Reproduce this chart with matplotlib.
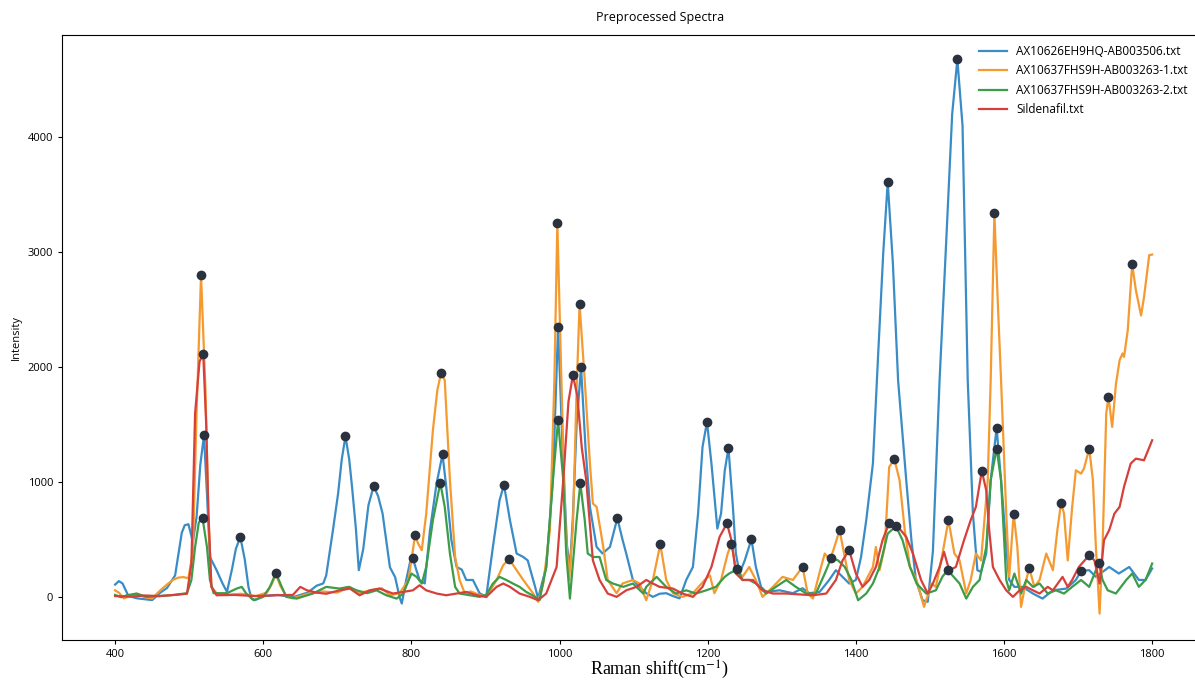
import numpy as np
import matplotlib.pyplot as plt

# spectra (Raman shift, intensity)
blue_x = [400, 405, 410, 418, 430, 450, 461, 470, 481, 490, 494, 499, 505, 510, 515, 520, 524, 528, 537, 545,
          551, 558, 563, 569, 575, 580, 584, 589, 600, 620, 640, 660, 672, 681, 685, 694, 701, 706, 711, 716,
          720, 725, 729, 735, 742, 749, 755, 761, 771, 778, 784, 787, 793, 798, 802, 806, 811, 818, 825, 834,
          842, 847, 854, 861, 868, 874, 883, 892, 901, 910, 919, 925, 933, 942, 951, 957, 967, 971, 982, 991,
          998, 1004, 1010, 1014, 1018, 1023, 1029, 1035, 1041, 1050, 1058, 1068, 1078, 1085, 1090, 1099, 1108,
          1117, 1126, 1135, 1144, 1153, 1162, 1171, 1180, 1187, 1193, 1199, 1205, 1213, 1218, 1223, 1228, 1234,
          1238, 1243, 1250, 1259, 1265, 1272, 1279, 1297, 1315, 1328, 1337, 1351, 1364, 1373, 1382, 1391, 1400,
          1407, 1414, 1423, 1430, 1437, 1443, 1450, 1457, 1468, 1475, 1481, 1490, 1497, 1504, 1513, 1522, 1530,
          1537, 1544, 1551, 1558, 1564, 1569, 1576, 1582, 1590, 1596, 1603, 1607, 1614, 1625, 1639, 1652, 1666,
          1684, 1697, 1704, 1715, 1724, 1733, 1742, 1755, 1769, 1782, 1791, 1800]
blue_y = [110, 140, 120, 10, -10, -25, 40, 80, 190, 560, 626, 635, 480, 700, 1150, 1410, 900, 350, 235, 120,
          46, 250, 420, 524, 330, 90, -10, -25, 10, 20, 0, 40, 100, 120, 190, 580, 900, 1200, 1400, 1200,
          950, 600, 235, 420, 800, 965, 880, 730, 260, 175, 0, -55, 150, 300, 340, 250, 150, 120, 580, 990,
          1243, 960, 495, 263, 240, 150, 150, 35, 3, 437, 843, 977, 670, 380, 350, 320, 90, -10, 263, 1017,
          2348, 1300, 450, 250, 700, 1500, 2000, 1300, 785, 437, 380, 437, 687, 500, 380, 150, 90,
          35, 3, 30, 35, 10, -10, 150, 263, 727, 1307, 1524, 1165, 597, 727, 1100, 1298, 785,
          380, 207, 320, 504, 263, 90, 46, 60, 35, 78, 35, 46, 150, 235, 177, 119, 150,
          350, 670, 1162, 2100, 3000, 3609, 2900, 1887, 1017, 496, 150, -26, -40, 400, 1887, 3100, 4200,
          4678, 4100, 1887, 727, 235, 220, 380, 1017, 1472, 1017, 437, 150, 90, 90, 32, -12, 60,
          75, 150, 229, 235, 177, 220, 263, 206, 263, 150, 150, 250]

orange_x = [400, 405, 412, 420, 430, 440, 450, 461, 470, 478, 485, 492, 499, 505, 510, 516, 522, 526, 530, 537,
            550, 570, 590, 605, 612, 617, 623, 631, 640, 660, 680, 700, 717, 729, 744, 760, 771, 784, 796, 805,
            809, 814, 820, 829, 835, 840, 845, 852, 859, 865, 872, 880, 888, 901, 915, 924, 932, 942, 951, 964,
            971, 978, 987, 993, 997, 1002, 1008, 1013, 1018, 1023, 1027, 1034, 1041, 1045, 1050, 1059, 1065,
            1077, 1085, 1099, 1108, 1117, 1126, 1136, 1144, 1153, 1166, 1180, 1196, 1203, 1209, 1218, 1227,
            1232, 1238, 1247, 1256, 1265, 1274, 1288, 1301, 1315, 1328, 1335, 1342, 1353, 1358, 1365, 1371,
            1378, 1385, 1391, 1400, 1409, 1423, 1427, 1432, 1439, 1445, 1452, 1459, 1466, 1473, 1482, 1492,
            1502, 1508, 1517, 1525, 1533, 1540, 1549, 1555, 1562, 1569, 1578, 1582, 1587, 1592, 1596, 1603,
            1607, 1613, 1618, 1623, 1630, 1634, 1641, 1648, 1657, 1666, 1672, 1677, 1681, 1686, 1692, 1697,
            1704, 1708, 1715, 1720, 1724, 1729, 1733, 1738, 1741, 1746, 1751, 1756, 1760, 1762, 1767, 1773,
            1778, 1785, 1789, 1796, 1800]
orange_y = [60, 40, -10, 10, 30, 0, -10, 60, 110, 150, 170, 175, 165, 400, 1600, 2800, 1800, 700, 90, 35,
            20, 30, 10, 40, 120, 200, 100, 10, -10, 30, 50, 40, 90, 35, 60, 78, 17, 35, 150, 540,
            467, 409, 727, 1452, 1800, 1948, 1887, 1017, 350, 150, 35, 50, 30, 0, 150, 280, 330, 235, 150, 35,
            -40, 119, 583, 1887, 3252, 2000, 600, 150, 600, 1800, 2548, 1887, 1162, 815, 785, 437, 150,
            35, 119, 150, 119, -26, 150, 461, 150, 35, 3, 35, 150, 190, 35, 150, 380,
            461, 263, 177, 263, 150, 3, 90, 177, 150, 264, 32, -12, 263, 380, 320, 437,
            583, 350, 150, 32, 90, 263, 437, 235, 437, 1133, 1200, 1017, 583, 263, 150, -84,
            119, 90, 380, 670, 380, 320, 32, 150, 380, 320, 1017, 1887, 3339, 2500, 1887, 727,
            177, 727, 437, -84, 150, 255, 90, 150, 380, 235, 583, 820, 727, 320, 785, 1104,
            1075, 1120, 1293, 1017, 437, -142, 437, 1597, 1742, 1481, 1850, 2060, 2120, 2090, 2320, 2896,
            2670, 2450, 2610, 2974, 2980]

green_x = [400, 408, 416, 429, 442, 460, 480, 497, 503, 508, 513, 518, 524, 528, 533, 551, 564, 571, 577, 587,
           600, 609, 617, 625, 631, 645, 667, 685, 703, 715, 726, 740, 753, 766, 780, 789, 800, 807, 814, 820,
           829, 839, 845, 852, 859, 865, 879, 892, 901, 910, 919, 928, 937, 946, 955, 967, 973, 982, 991, 998,
           1005, 1009, 1014, 1018, 1023, 1028, 1034, 1038, 1045, 1054, 1063, 1072, 1086, 1099, 1113, 1117, 1131,
           1144, 1157, 1171, 1184, 1198, 1211, 1223, 1229, 1240, 1247, 1256, 1265, 1279, 1292, 1306, 1319, 1333,
           1346, 1358, 1367, 1376, 1385, 1394, 1403, 1414, 1423, 1432, 1443, 1454, 1463, 1473, 1482, 1495, 1508,
           1517, 1524, 1532, 1540, 1549, 1558, 1567, 1576, 1582, 1590, 1596, 1603, 1607, 1614, 1623, 1630, 1639,
           1648, 1659, 1670, 1681, 1692, 1704, 1715, 1728, 1733, 1740, 1751, 1765, 1773, 1782, 1791, 1800]
green_y = [20, 0, 17, 32, 3, 10, 20, 35, 150, 437, 650, 690, 437, 150, 35, 35, 75, 90, 32, -26,
           3, 90, 210, 90, 3, -12, 32, 90, 75, 90, 60, 35, 60, 17, -12, 32, 206, 177, 119, 263,
           670, 994, 785, 380, 90, 32, 17, 3, 20, 119, 177, 150, 119, 90, 46, 3, -26, 263, 1017, 1539,
           1017, 380, -12, 293, 670, 991, 670, 380, 350, 350, 150, 119, 90, 119, 32, 90, 177,
           90, 32, 60, 32, 60, 90, 177, 206, 243, 150, 150, 119, 32, 90, 150, 90, 32,
           32, 206, 345, 320, 263, 150, -26, 32, 119, 263, 553, 617, 496, 263, 119, 32, 60,
           180, 235, 177, 119, -12, 90, 150, 437, 1017, 1293, 1017, 150, 60, 206, 32, 150, 90,
           119, 32, 60, 32, 90, 150, 90, 298, 150, 60, 32, 150, 206, 90, 150, 293]

red_x = [400, 420, 440, 460, 480, 497, 503, 508, 514, 519, 523, 526, 530, 537, 560, 590, 617, 640, 650, 659,
         672, 685, 703, 717, 730, 744, 757, 775, 789, 802, 811, 820, 834, 847, 861, 874, 888, 901, 915, 924,
         933, 946, 960, 971, 982, 996, 1005, 1012, 1018, 1024, 1030, 1036, 1045, 1054, 1065, 1077, 1090, 1104,
         1117, 1126, 1135, 1153, 1166, 1180, 1193, 1205, 1216, 1226, 1232, 1238, 1247, 1261, 1274, 1288, 1306,
         1342, 1360, 1373, 1382, 1391, 1400, 1409, 1418, 1427, 1436, 1445, 1457, 1468, 1477, 1488, 1497, 1504,
         1513, 1519, 1526, 1535, 1546, 1555, 1562, 1570, 1576, 1580, 1585, 1594, 1603, 1612, 1621, 1630, 1639,
         1648, 1659, 1666, 1679, 1686, 1692, 1701, 1715, 1722, 1729, 1735, 1742, 1749, 1756, 1762, 1771, 1778,
         1789, 1800]
red_y = [10, 5, 15, 10, 20, 30, 293, 1600, 2050, 2113, 1500, 727, 90, 17, 20, 10, 17, 20, 90, 60,
         40, 30, 60, 75, 17, 60, 75, 32, 46, 60, 104, 60, 32, 17, 32, 46, 17, 3, 90, 119,
         90, 32, 3, -26, 32, 263, 1017, 1700, 1930, 1750, 1300, 1017, 320, 150, 32, 3, 60, 90,
         150, 119, 90, 75, 32, 3, 90, 263, 524, 643, 496, 206, 150, 150, 60, 32, 32,
         17, 32, 150, 320, 409, 206, 90, 150, 263, 496, 646, 612, 524, 380, 150, 32, 119,
         263, 394, 235, 263, 496, 670, 785, 1098, 930, 583, 263, 150, 60, 3, 60, 90, 60,
         32, 90, 60, 177, 90, 150, 263, 365, 320, 119, 496, 583, 727, 785, 960, 1162, 1205,
         1191, 1365]

# detected peaks (Raman shift) per spectrum
blue_peaks = [520, 569, 711, 749, 802, 842, 925, 998, 1029, 1078, 1199, 1228, 1259, 1443, 1537, 1590, 1704]
orange_peaks = [516, 805, 840, 932, 997, 1027, 1136, 1232, 1328, 1378, 1452, 1525, 1587, 1613, 1634, 1677,
                1715, 1741, 1773]
green_peaks = [518, 617, 839, 998, 1028, 1240, 1367, 1454, 1524, 1590, 1728]
red_peaks = [519, 1018, 1226, 1391, 1445, 1570, 1715]

names = ['AX10626EH9HQ-AB003506.txt', 'AX10637FHS9H-AB003263-1.txt',
         'AX10637FHS9H-AB003263-2.txt', 'Sildenafil.txt']
colors = ['#3a8cc6', '#f59a30', '#3c9c48', '#d6403a']

plt.rcParams['font.family'] = ['Open Sans', 'DejaVu Sans']
plt.rcParams['mathtext.fontset'] = 'stix'

fig = plt.figure(figsize=(11.95, 6.84), dpi=100)
ax = fig.add_axes([0.052, 0.064, 1.0, 0.8845])

series = [(blue_x, blue_y, blue_peaks), (orange_x, orange_y, orange_peaks),
          (green_x, green_y, green_peaks), (red_x, red_y, red_peaks)]

for (xs, ys, pk), name, c in zip(series, names, colors):
    ax.plot(xs, ys, color=c, lw=1.6, label=name)

# dark dots on the peaks
for xs, ys, pk in series:
    xs = np.array(xs)
    ys = np.array(ys)
    idx = np.searchsorted(xs, pk)
    ax.plot(xs[idx], ys[idx], 'o', color='#2a3240', ms=6, zorder=5)

ax.set_xlim(328.5, 1941.7)
ax.set_ylim(-374, 4887)
ax.set_xticks([400, 600, 800, 1000, 1200, 1400, 1600, 1800])
ax.set_yticks([0, 1000, 2000, 3000, 4000])
ax.tick_params(labelsize=8, length=3)
ax.set_title('Preprocessed Spectra', fontsize=9, pad=10)
ax.set_ylabel('Intensity', fontsize=8)
ax.set_xlabel(r'Raman shift(cm$^{\mathrm{-1}}$)', fontsize=13, family='Liberation Serif', labelpad=-1)

fig.legend(loc='upper left', bbox_to_anchor=(0.81, 0.95), frameon=False, fontsize=8.5,
           handlelength=2.4, labelspacing=0.55)

fig.savefig('out.png', dpi=100)
